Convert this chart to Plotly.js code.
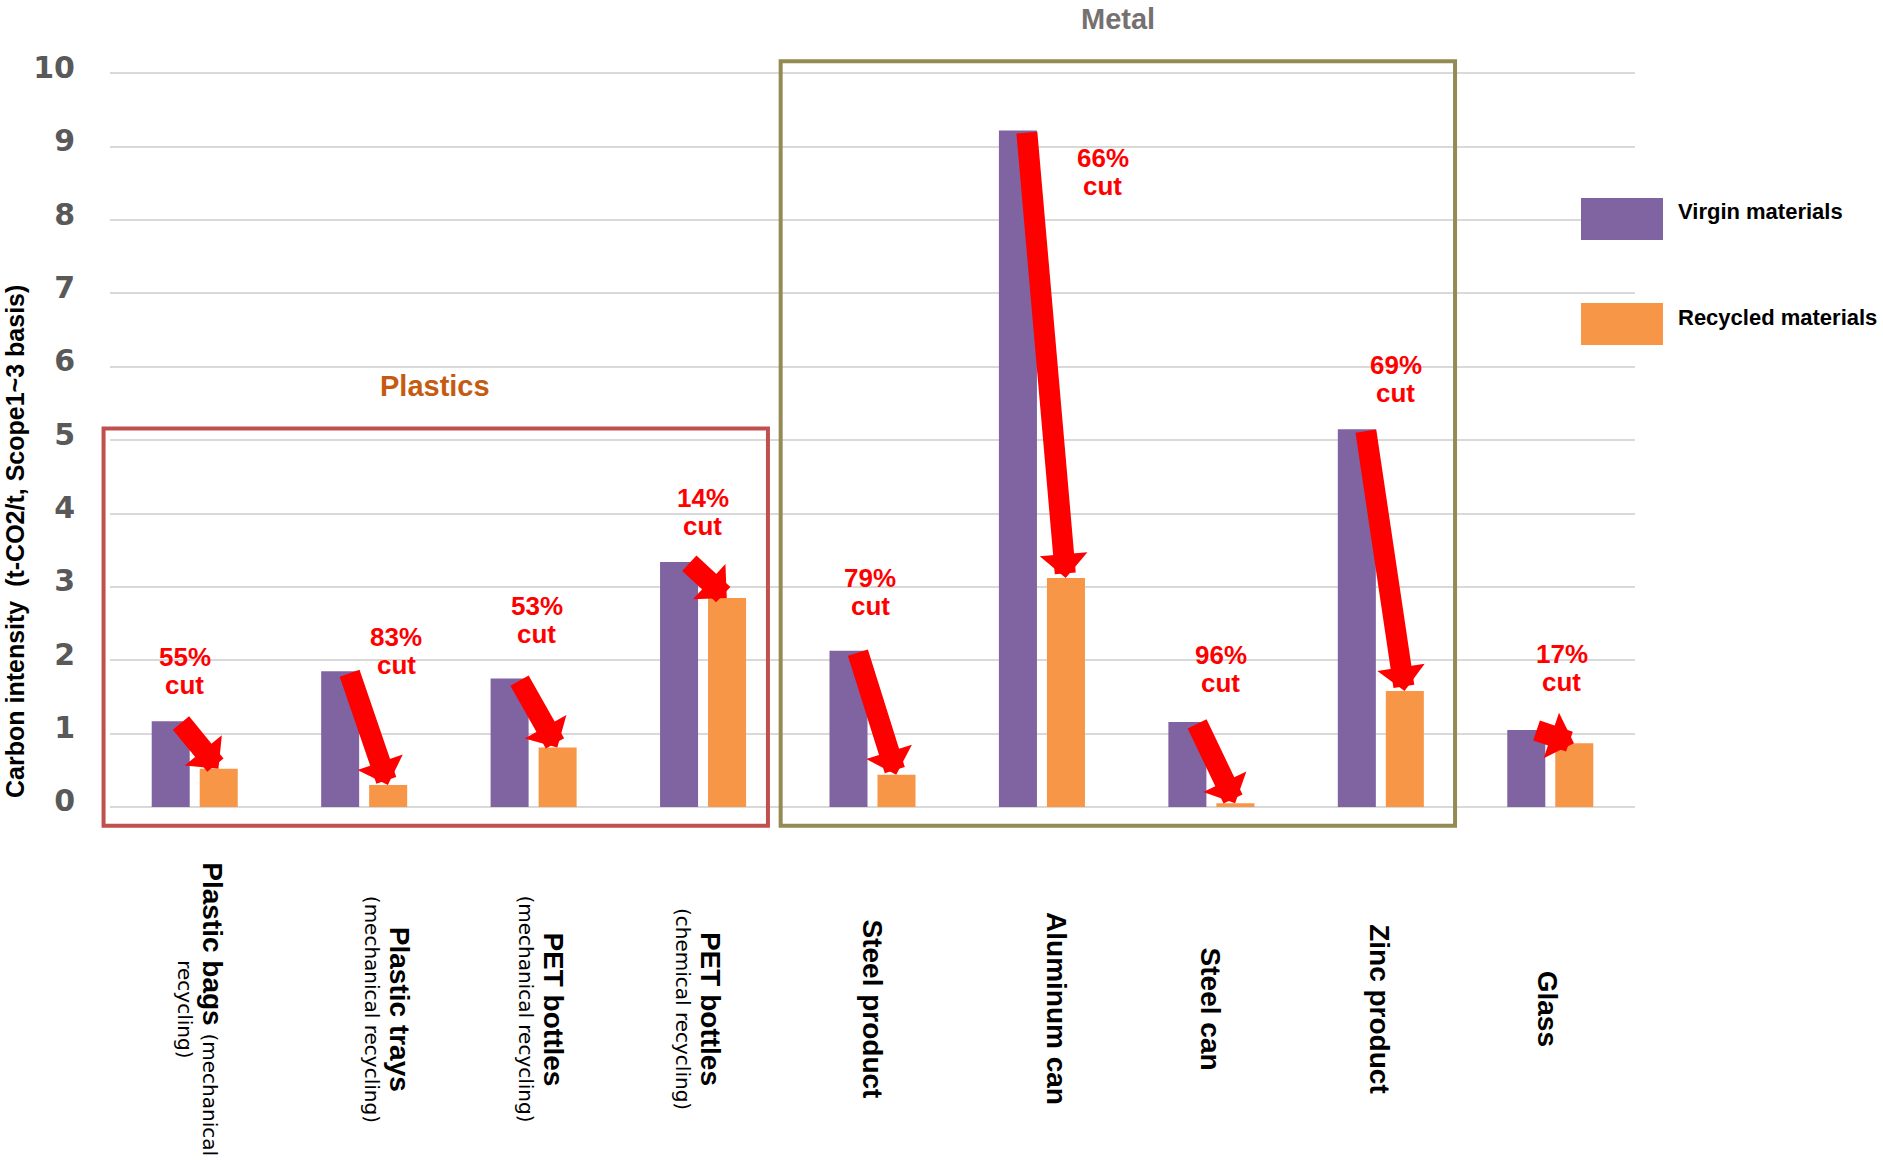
<!DOCTYPE html>
<html>
<head>
<meta charset="utf-8">
<script src="https://cdn.plot.ly/plotly-3.0.1.min.js"></script>
<style>html,body{margin:0;padding:0;background:#fff;}</style>
</head>
<body>
<div id="chart" style="width:1883px;height:1161px;"></div>
<script>
// ---------------- DATA ----------------
const categories = [
  'Plastic bags (mechanical recycling)',
  'Plastic trays (mechanical recycling)',
  'PET bottles (mechanical recycling)',
  'PET bottles (chemical recycling)',
  'Steel product',
  'Aluminum can',
  'Steel can',
  'Zinc product',
  'Glass'
];
const labelMain = ['Plastic bags', 'Plastic trays', 'PET bottles', 'PET bottles', 'Steel product', 'Aluminum can', 'Steel can', 'Zinc product', 'Glass'];
const labelSub = ['(mechanical recycling)', '(mechanical recycling)', '(mechanical recycling)', '(chemical recycling)', '', '', '', '', ''];
const virgin = [1.17, 1.85, 1.75, 3.34, 2.13, 9.22, 1.16, 5.15, 1.05];
const recycled = [0.52, 0.30, 0.81, 2.85, 0.44, 3.12, 0.05, 1.58, 0.87];
const cutLabels = ['55%', '83%', '53%', '14%', '79%', '66%', '96%', '69%', '17%'];
const cutWord = 'cut';
const seriesNames = ['Virgin materials', 'Recycled materials'];
const groupNames = ['Plastics', 'Metal'];
const yTitle = 'Carbon intensity\u00a0 (t-CO2/t, Scope1~3 basis)';

// ---------------- STYLE / LAYOUT CONFIG ----------------
const W = 1883, H = 1161;
const M = {l: 110, r: 248, t: 55, b: 332};
const PW = W - M.l - M.r, PH = H - M.t - M.b;
const XR = [-0.5, 8.5];
function paperX(px) { return (px - M.l) / PW; }
function paperY(py) { return (H - M.b - py) / PH; }
function catToPaper(c) { return (c - XR[0]) / (XR[1] - XR[0]); }

const seriesColors = ['#8064A2', '#F79646'];
const ARIAL = 'Liberation Sans, Arial, sans-serif';
const DEJAVU = 'DejaVu Sans, Verdana, sans-serif';
const red = '#FF0000';

// label block centres for "xx% cut" (x in category units, y in axis units)
const cutPos = [
  [-0.06, 1.85], [1.19, 2.125], [2.018, 2.55], [2.997, 4.02], [3.988, 2.93],
  [5.36, 8.66], [6.055, 1.88], [7.089, 5.83], [8.069, 1.894]
];
const arrowTailDx = -0.09, arrowTipDx = 0.14;
// horizontal pixel shift of category label blocks, and how many words of the sub label sit on line 1
const labelShift = [4, 22, 6, -6, 0, 15, 0, -1, -2];
const subOnLine1 = [1, 0, 0, 0, 0, 0, 0, 0, 0];

// group boxes (x in category units, y in axis units)
const groupBoxes = [
  {x0: -0.538, x1: 3.383, y0: -0.255, y1: 5.159, color: '#C0504D'},
  {x0: 3.458, x1: 7.438, y0: -0.255, y1: 10.164, color: '#948A54'}
];

// ---------------- TRACES ----------------
const idx = categories.map((_, i) => i);
const traces = [
  {type: 'bar', name: seriesNames[0], x: idx, y: virgin, marker: {color: seriesColors[0]}, showlegend: false, hoverinfo: 'y'},
  {type: 'bar', name: seriesNames[1], x: idx, y: recycled, marker: {color: seriesColors[1]}, showlegend: false, hoverinfo: 'y'}
];

// ---------------- ANNOTATIONS ----------------
const annotations = [];

// arrows from virgin to recycled
idx.forEach(i => {
  annotations.push({
    xref: 'x', yref: 'y', axref: 'x', ayref: 'y',
    x: i + arrowTipDx, y: recycled[i],
    ax: i + arrowTailDx, ay: virgin[i],
    text: ' ', font: {size: 1},
    showarrow: true, arrowhead: 1, arrowsize: 0.38, arrowwidth: 21,
    arrowcolor: red, standoff: 0, startstandoff: 0
  });
});

// "xx% cut" labels
idx.forEach(i => {
  const f = {family: ARIAL, size: 26, color: red, weight: 'bold'};
  annotations.push({xref: 'x', yref: 'y', x: cutPos[i][0], y: cutPos[i][1], yshift: 14,
    text: cutLabels[i], showarrow: false, font: f, xanchor: 'center', yanchor: 'middle'});
  annotations.push({xref: 'x', yref: 'y', x: cutPos[i][0], y: cutPos[i][1], yshift: -14,
    text: cutWord, showarrow: false, font: f, xanchor: 'center', yanchor: 'middle'});
});

// category labels (rotated)
const catY = paperY(1009);
const subSpan = s => '<span style="font-family:DejaVu Sans;font-size:20px;font-weight:normal">' + s + '</span>';
idx.forEach(i => {
  const mainFont = {family: ARIAL, size: 28, color: '#000000', weight: 'bold'};
  if (labelSub[i]) {
    const words = labelSub[i].split(' ');
    const k = subOnLine1[i];
    const line1 = k > 0 ? labelMain[i] + ' ' + subSpan(words.slice(0, k).join(' ')) : labelMain[i];
    const line2 = words.slice(k).join(' ');
    annotations.push({xref: 'x', yref: 'paper', x: i, y: catY, xshift: labelShift[i] + 14,
      text: line1, textangle: 90, showarrow: false, font: mainFont, xanchor: 'center', yanchor: 'middle'});
    annotations.push({xref: 'x', yref: 'paper', x: i, y: catY, xshift: labelShift[i] - 14,
      text: line2, textangle: 90, showarrow: false,
      font: {family: DEJAVU, size: 20, color: '#000000'}, xanchor: 'center', yanchor: 'middle'});
  } else {
    annotations.push({xref: 'x', yref: 'paper', x: i, y: catY, xshift: labelShift[i],
      text: labelMain[i], textangle: 90, showarrow: false, font: mainFont, xanchor: 'center', yanchor: 'middle'});
  }
});

// group titles
annotations.push({xref: 'paper', yref: 'paper', x: paperX(435), y: paperY(386), text: groupNames[0],
  showarrow: false, font: {family: ARIAL, size: 29, color: '#C55A11', weight: 'bold'}, xanchor: 'center', yanchor: 'middle'});
annotations.push({xref: 'paper', yref: 'paper', x: paperX(1118), y: paperY(19), text: groupNames[1],
  showarrow: false, font: {family: ARIAL, size: 29, color: '#767171', weight: 'bold'}, xanchor: 'center', yanchor: 'middle'});

// y-axis title
annotations.push({xref: 'paper', yref: 'paper', x: paperX(15), y: paperY(542), text: yTitle, textangle: -90,
  showarrow: false, font: {family: ARIAL, size: 25, color: '#000000', weight: 'bold'}, xanchor: 'center', yanchor: 'middle'});

// legend (custom, large swatches)
const legendRows = [{y0: 198, y1: 240, ty: 212}, {y0: 303, y1: 345, ty: 317}];
const shapes = [];
seriesNames.forEach((n, s) => {
  const r = legendRows[s];
  shapes.push({type: 'rect', xref: 'paper', yref: 'paper', x0: paperX(1581), x1: paperX(1663),
    y0: paperY(r.y1), y1: paperY(r.y0), fillcolor: seriesColors[s], line: {width: 0}, layer: 'above'});
  annotations.push({xref: 'paper', yref: 'paper', x: paperX(1676), y: paperY(r.ty), text: n, showarrow: false,
    font: {family: ARIAL, size: 22, color: '#000000', weight: 'bold'}, xanchor: 'left', yanchor: 'middle'});
});

// group boxes
groupBoxes.forEach(b => {
  shapes.push({type: 'rect', xref: 'paper', yref: 'y', x0: catToPaper(b.x0), x1: catToPaper(b.x1), y0: b.y0, y1: b.y1,
    line: {color: b.color, width: 4}, fillcolor: 'rgba(0,0,0,0)', layer: 'above'});
});

const layout = {
  width: W, height: H,
  margin: {l: M.l, r: M.r, t: M.t, b: M.b, pad: 0},
  paper_bgcolor: '#ffffff', plot_bgcolor: '#ffffff',
  barmode: 'group', bargap: 0.4334, bargroupgap: 0.208,
  showlegend: false,
  font: {family: ARIAL},
  xaxis: {type: 'linear', range: XR, showgrid: false, zeroline: false, showticklabels: false,
    showline: false, ticks: '', fixedrange: true},
  yaxis: {range: [-0.3, 10.25], tickmode: 'linear', tick0: 0, dtick: 1,
    showgrid: true, gridcolor: '#D9D9D9', gridwidth: 2,
    zeroline: true, zerolinecolor: '#D9D9D9', zerolinewidth: 2, showline: false,
    tickfont: {family: DEJAVU, size: 30, color: '#595959', weight: 'bold'},
    ticklabelstandoff: 34, ticklabelshift: -6, fixedrange: true},
  shapes: shapes,
  annotations: annotations
};

Plotly.newPlot('chart', traces, layout, {displayModeBar: false, staticPlot: true});
</script>
</body>
</html>
